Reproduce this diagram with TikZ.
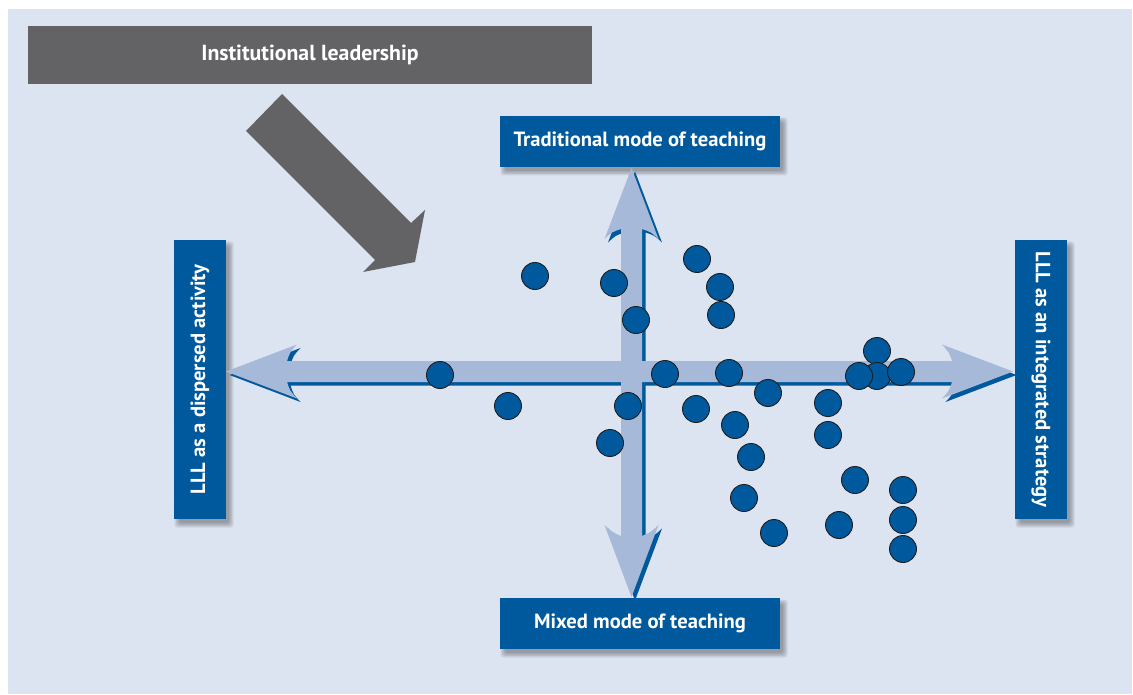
\documentclass[tikz,border=0pt]{standalone}
\usepackage{fontspec}
\setmainfont{PT Sans}
\definecolor{bg}{HTML}{DDE4F1}
\definecolor{gbox}{HTML}{636365}
\definecolor{dblue}{HTML}{00599C}
\definecolor{lblue}{HTML}{A6B9D9}
\definecolor{dotline}{HTML}{1E1E1E}
\newcommand\softshadow[4]{%
  \foreach \k in {0,1.5,3,4.5}{%
    \fill[black,opacity=0.09,rounded corners=3pt] (#1+5-\k,#2+6-\k) rectangle (#3+3+\k,#4+4+\k);}}
\newcommand\axisshape{%
  (226,371.5) -- (297,344.5) .. controls (290,352) .. (287,361) -- (621,361)
  -- (621,229) .. controls (612,232) .. (604.5,239) -- (631.5,168) -- (658.5,239)
  .. controls (651,232) .. (642,229) -- (642,361) -- (952,361)
  .. controls (949,352) .. (942,344.5) -- (1013,371.5) -- (942,398.5)
  .. controls (949,391) .. (952,382) -- (642,382) -- (642,536)
  .. controls (651,532) .. (658.5,525) -- (631.5,597) -- (604.5,525)
  .. controls (612,532) .. (621,536) -- (621,382) -- (287,382)
  .. controls (290,391) .. (297,398.5) -- cycle}
\begin{document}
\begin{tikzpicture}[x=1pt,y=-1pt,
  txt/.style={text=white,font=\fontsize{20.6}{24}\selectfont\bfseries,inner sep=0pt},
  bluebox/.style={txt,fill=dblue},
  graybox/.style={txt,fill=gbox,font=\fontsize{21.8}{25}\selectfont\bfseries},
  dot/.style={circle,fill=dblue,draw=dotline,line width=0.9pt,minimum size=27pt,inner sep=0pt}]
\useasboundingbox (0,0) rectangle (1133,695);
\fill[bg] (8,9) rectangle (1132,694);
% institutional leadership
\node[graybox,minimum width=564pt,minimum height=58pt] (lead) at (310,55) {Institutional leadership};
\fill[gbox] (282,94) -- (411,223) -- (425,210) -- (415,262) -- (363,272) -- (375,260) -- (246,131) -- cycle;
% box shadows
\softshadow{500}{116}{780}{167}
\softshadow{500}{598}{780}{649}
\softshadow{174}{240}{226}{519}
\softshadow{1015}{240}{1067}{519}
% axes
\fill[dblue,shift={(3.5,3.5)}] \axisshape;
\fill[lblue] \axisshape;
% boxes
\node[bluebox,minimum width=280pt,minimum height=51pt] (trad) at (640,141.5) {Traditional mode of teaching};
\node[bluebox,minimum width=280pt,minimum height=51pt] (mixed) at (640,623.5) {Mixed mode of teaching};
\node[bluebox,rotate=90,minimum width=279pt,minimum height=52pt] (disp) at (200,379.5) {LLL as a dispersed activity};
\node[bluebox,rotate=-90,minimum width=279pt,minimum height=52pt] (integ) at (1041,379.5) {LLL as an integrated strategy};
% dots
\foreach \i/\x/\y in {1/535/276,2/614/283,3/636/320,4/697/259,5/720/287,6/721/315,
  7/440/375,8/508/406,9/628/406,10/610/443,11/665/374,12/729/373,13/696/409,
  14/768/393,15/735/425,16/751/457,17/744/498,18/774/533,19/828/403,20/828/435,
  21/855/480,22/839/525,23/903/490,24/903/520,25/903/549,26/877/351,27/877/376,
  28/859/376,29/901/372}
  \node[dot] (d\i) at (\x,\y) {};
\end{tikzpicture}
\end{document}
